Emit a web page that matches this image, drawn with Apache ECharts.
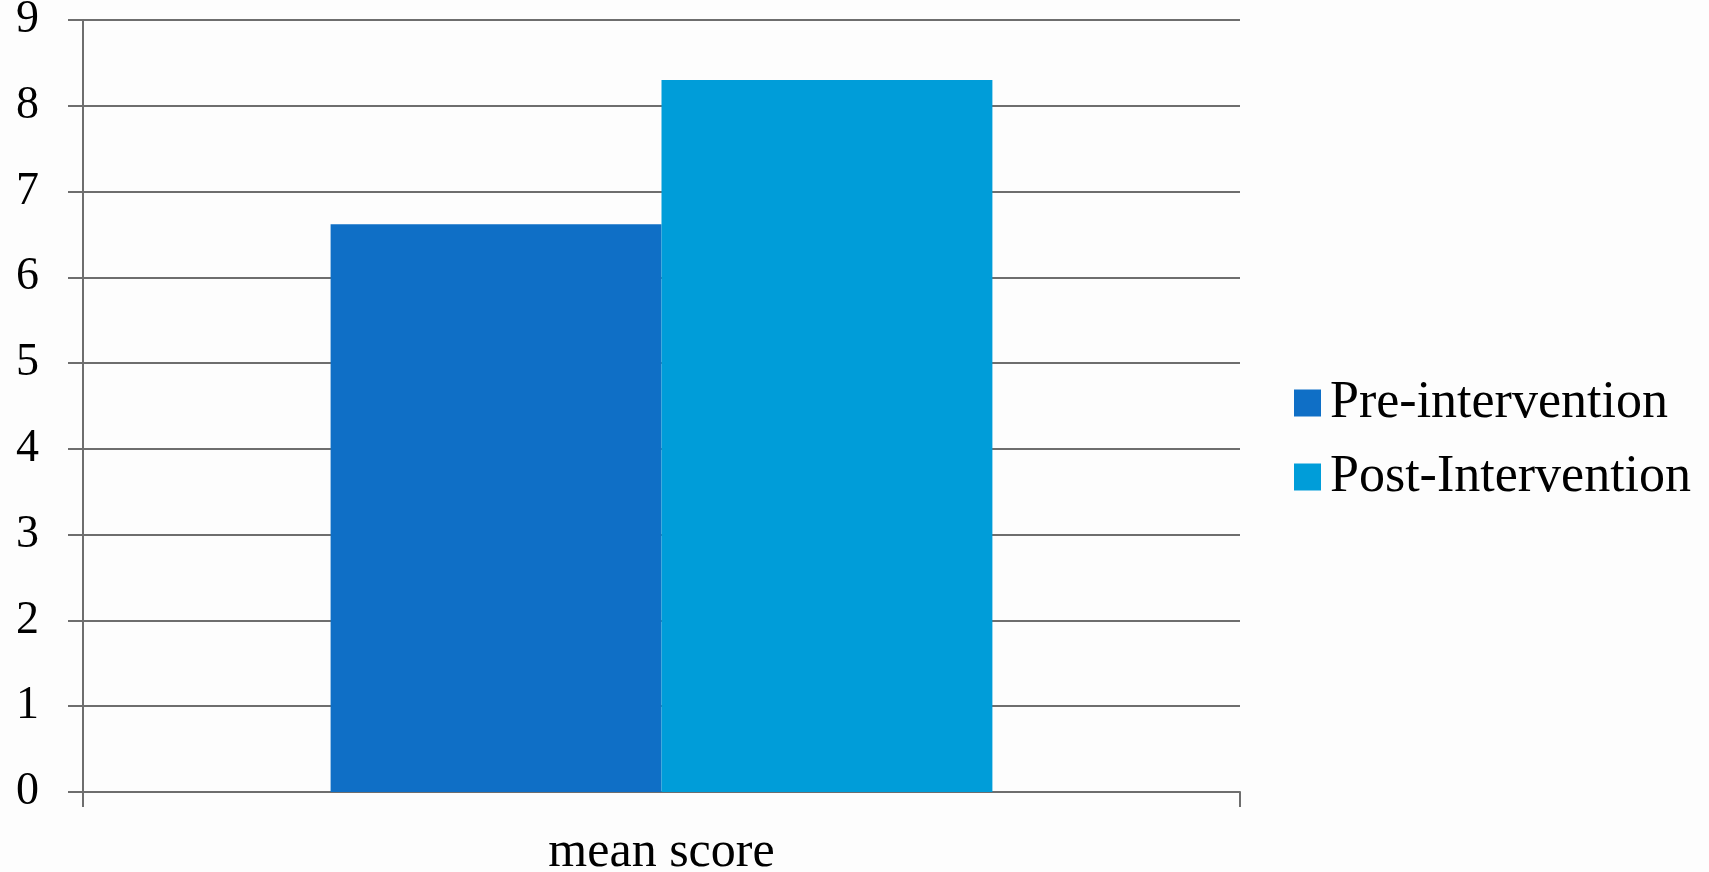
<!DOCTYPE html>
<html>
<head>
<meta charset="utf-8">
<script src="https://cdn.jsdelivr.net/npm/echarts@6/dist/echarts.min.js"></script>
<style>
  html, body { margin: 0; padding: 0; background: #fdfdfd; }
  #chart { width: 1709px; height: 872px; }
</style>
</head>
<body>
<div id="chart"></div>
<script>
var categories = ['mean score']
var preValues = [6.62]
var postValues = [8.3]
var seriesNames = ['Pre-intervention', 'Post-Intervention']

var myChart = echarts.init(document.getElementById('chart'))
var fontFamily = 'Liberation Serif'
// grid lines and axis lines share the same grey
var lineColor = '#6e6e6e'

var option = {
  backgroundColor: '#fdfdfd',
  textStyle: { fontFamily: fontFamily },
  legend: {
    orient: 'vertical',
    left: 1289,
    top: 372,
    itemWidth: 27,
    itemHeight: 27,
    itemGap: 22,
    icon: 'rect',
    data: seriesNames,
    textStyle: { fontSize: 52, color: '#000', fontFamily: fontFamily, lineHeight: 48, padding: [0, 0, 0, 4] }
  },
  grid: { left: 83, right: 469, top: 20, bottom: 80, outerBoundsMode: 'none' },
  xAxis: {
    type: 'category',
    data: categories,
    axisLine: { lineStyle: { color: lineColor, width: 2 } },
    axisTick: { show: true, interval: 0, length: 15, lineStyle: { color: lineColor, width: 2 } },
    axisLabel: { fontSize: 50, color: '#000', margin: 36, fontFamily: fontFamily }
  },
  yAxis: {
    type: 'value',
    min: 0,
    max: 9,
    interval: 1,
    axisLine: { show: true, lineStyle: { color: lineColor, width: 2 } },
    axisTick: { show: true, length: 15, lineStyle: { color: lineColor, width: 2 } },
    splitLine: { lineStyle: { color: lineColor, width: 2 } },
    axisLabel: { fontSize: 46, color: '#000', margin: 44, fontFamily: fontFamily }
  },
  series: [{
    name: seriesNames[0],
    type: 'bar',
    data: preValues,
    barWidth: '28.6%',
    barGap: '0%',
    itemStyle: { color: '#0F6FC6' }
  }, {
    name: seriesNames[1],
    type: 'bar',
    data: postValues,
    barWidth: '28.6%',
    itemStyle: { color: '#009DD9' }
  }]
}
myChart.setOption(option)
</script>
</body>
</html>
